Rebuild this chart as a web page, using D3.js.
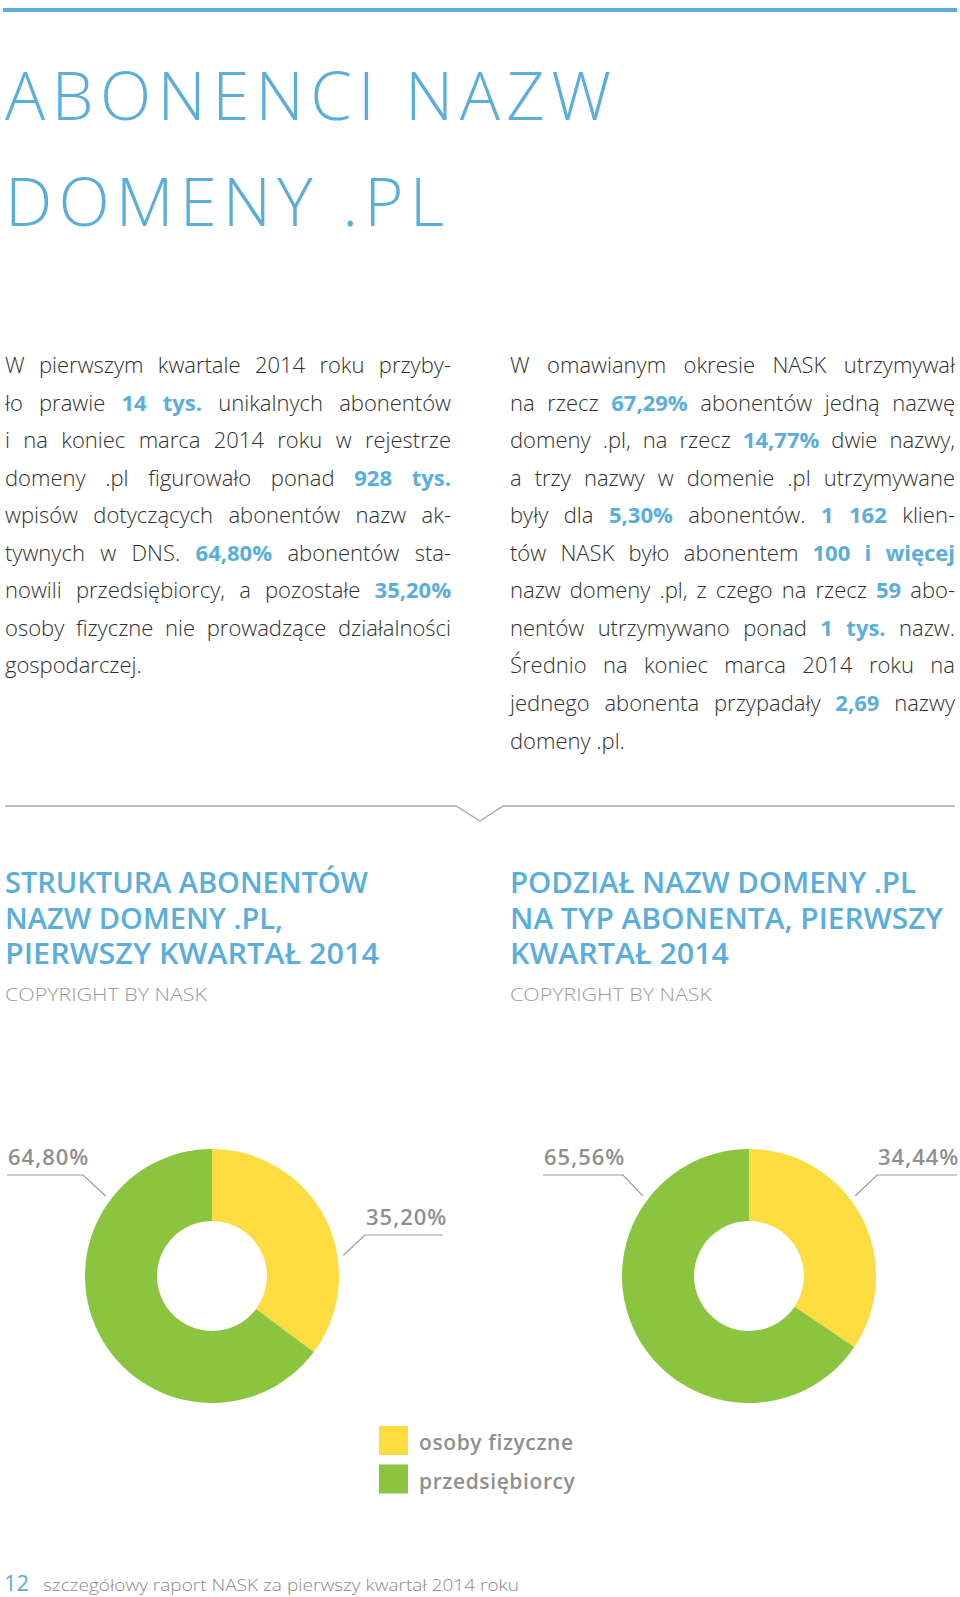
<!DOCTYPE html>
<html><head><meta charset="utf-8">
<script src="https://cdn.jsdelivr.net/npm/d3@7"></script>
<style>html,body{margin:0;padding:0;background:#fff;}svg{display:block;}</style>
</head><body>
<script>
// ---------- data ----------
const categories = ["osoby fizyczne", "przedsiębiorcy"];
const strukturaValues = [35.20, 64.80];   // chart 1
const podzialValues = [34.44, 65.56];     // chart 2
const chart1Title = ["STRUKTURA ABONENTÓW", "NAZW DOMENY .PL,", "PIERWSZY KWARTAŁ 2014"];
const chart2Title = ["PODZIAŁ NAZW DOMENY .PL", "NA TYP ABONENTA, PIERWSZY", "KWARTAŁ 2014"];
const sourceNote = "COPYRIGHT BY NASK";
const pageTitle = ["ABONENCI NAZW", "DOMENY .PL"];
const footerPage = "12";
const footerText = "szczegółowy raport NASK za pierwszy kwartał 2014 roku";
// paragraph lines: **bold**
const leftLines = [
  "W pierwszym kwartale 2014 roku przyby-",
  "ło prawie **14 tys.** unikalnych abonentów",
  "i na koniec marca 2014 roku w rejestrze",
  "domeny .pl figurowało ponad **928 tys.**",
  "wpisów dotyczących abonentów nazw ak-",
  "tywnych w DNS. **64,80%** abonentów sta-",
  "nowili przedsiębiorcy, a pozostałe **35,20%**",
  "osoby fizyczne nie prowadzące działalności",
  "gospodarczej."
];
const rightLines = [
  "W omawianym okresie NASK utrzymywał",
  "na rzecz **67,29%** abonentów jedną nazwę",
  "domeny .pl, na rzecz **14,77%** dwie nazwy,",
  "a trzy nazwy w domenie .pl utrzymywane",
  "były dla **5,30%** abonentów. **1 162** klien-",
  "tów NASK było abonentem **100 i więcej**",
  "nazw domeny .pl, z czego na rzecz **59** abo-",
  "nentów utrzymywano ponad **1 tys.** nazw.",
  "Średnio na koniec marca 2014 roku na",
  "jednego abonenta przypadały **2,69** nazwy",
  "domeny .pl."
];

// ---------- style ----------
const W = 960, H = 1597;
const BLUE = "#5aaedb", YELLOW = "#fddc40", GREEN = "#8bc43f", GRAY = "#8f8f8f", TEXT = "#2f2f2f";
const FONT = "'Open Sans', 'Noto Sans', sans-serif";
const colors = d3.scaleOrdinal().domain(categories).range([YELLOW, GREEN]);
const pl = d3.formatLocale({decimal: ",", thousands: " ", grouping: [3], currency: ["", " zł"]});
const fmtPct = v => pl.format(".2f")(v) + "%";

const svg = d3.select("body").append("svg").attr("width", W).attr("height", H)
  .style("font-family", FONT);

// top bar
svg.append("rect").attr("x", 3).attr("y", 8).attr("width", 954).attr("height", 4).attr("fill", BLUE);

// page title
const titleTargets = [606, 439];
pageTitle.forEach((t, i) => {
  svg.append("text").attr("x", 5).attr("y", [120, 226][i])
    .attr("font-size", 67).attr("font-weight", 300).attr("fill", BLUE)
    .attr("textLength", titleTargets[i]).attr("lengthAdjust", "spacing")
    .text(t);
});

// justified paragraphs
function parse(line) {
  const words = [];
  line.split("**").forEach((seg, k) => {
    seg.split(" ").filter(w => w.length).forEach(w => words.push({t: w, b: k % 2 === 1}));
  });
  return words;
}
function paragraph(lines, x0, x1, y0, lh) {
  lines.forEach((line, i) => {
    const words = parse(line);
    const txt = svg.append("text").attr("y", y0 + i * lh).attr("font-size", 22);
    const spans = words.map(w => txt.append("tspan").text(w.t)
      .attr("font-weight", w.b ? 700 : 300).attr("fill", w.b ? BLUE : TEXT));
    let widths = spans.map(s => s.node().getComputedTextLength());
    let total = d3.sum(widths);
    const last = i === lines.length - 1;
    let gap = (last || words.length < 2) ? 5.7 : (x1 - x0 - total) / (words.length - 1);
    if (gap < 5) { // too tight: condense glyph spacing a little
      const need = total - (x1 - x0 - 5 * (words.length - 1));
      const nChars = d3.sum(words, w => w.t.length);
      txt.attr("letter-spacing", -need / nChars);
      widths = spans.map(s => s.node().getComputedTextLength());
      total = d3.sum(widths);
      gap = (x1 - x0 - total) / (words.length - 1);
    }
    let x = x0;
    spans.forEach((s, k) => { s.attr("x", x); x += widths[k] + gap; });
  });
}
paragraph(leftLines, 5, 451, 373, 37.55);
paragraph(rightLines, 510, 955, 373, 37.55);

// divider with notch
svg.append("path").attr("d", "M5,806H456L480,821L503,806H955")
  .attr("fill", "none").attr("stroke", "#a9a9a9").attr("stroke-width", 1.4);

// chart headings
const h1Targets = [363, 278, 374], h2Targets = [406, 433, 219];
function heading(lines, targets, x) {
  lines.forEach((t, i) => {
    svg.append("text").attr("x", x).attr("y", 893 + i * 35.7)
      .attr("font-size", 29).attr("font-weight", 600).attr("fill", BLUE)
      .attr("textLength", targets[i]).attr("lengthAdjust", "spacingAndGlyphs").text(t);
  });
  svg.append("text").attr("x", x).attr("y", 1001).attr("font-size", 19).attr("font-weight", 300)
    .attr("fill", "#9a9a9a").attr("textLength", 202).attr("lengthAdjust", "spacingAndGlyphs").text(sourceNote);
}
heading(chart1Title, h1Targets, 5);
heading(chart2Title, h2Targets, 510);

// donuts
const R = 127, r = 55;
const pie = d3.pie().sort(null).value(d => d.v);
const arc = d3.arc().innerRadius(r).outerRadius(R);
function donut(values, cx, cy, labelLayout) {
  const data = values.map((v, i) => ({cat: categories[i], v}));
  const g = svg.append("g").attr("transform", `translate(${cx},${cy})`);
  const arcs = pie(data);
  g.selectAll("path.slice").data(arcs).join("path").attr("class", "slice")
    .attr("d", arc).attr("fill", d => colors(d.data.cat));
  arcs.forEach((a, i) => {
    const L = labelLayout[i];
    const ang = L.angle * Math.PI / 180;
    const px = cx + Math.sin(ang) * (R + 6), py = cy - Math.cos(ang) * (R + 6);
    const joinX = L.side === "left" ? L.x1 : L.x0;
    svg.append("path").attr("d", `M${px},${py}L${joinX},${L.ly}` +
        (L.side === "left" ? `L${L.x0},${L.ly}` : `L${L.x1},${L.ly}`))
      .attr("fill", "none").attr("stroke", "#9c9c9c").attr("stroke-width", 1.2);
    svg.append("text").attr("x", L.x0 + 1).attr("y", L.ly - 10)
      .attr("font-size", 22).attr("font-weight", 600).attr("fill", GRAY)
      .attr("letter-spacing", 1).text(fmtPct(a.data.v));
  });
}
donut(strukturaValues, 212, 1276, [
  {angle: 81, side: "right", x0: 365, x1: 443, ly: 1235},
  {angle: 307, side: "left", x0: 7, x1: 83, ly: 1175}
]);
donut(podzialValues, 749, 1276, [
  {angle: 53, side: "right", x0: 877, x1: 957, ly: 1175},
  {angle: 307, side: "left", x0: 543, x1: 623, ly: 1175}
]);

// legend
const lg = svg.append("g");
categories.forEach((c, i) => {
  lg.append("rect").attr("x", 379).attr("y", 1426 + i * 38.5).attr("width", 29).attr("height", 29)
    .attr("fill", colors(c));
  lg.append("text").attr("x", 419).attr("y", 1450 + i * 38.5).attr("font-size", 21)
    .attr("font-weight", 600).attr("fill", GRAY).attr("letter-spacing", 0.6).text(c);
});

// footer
svg.append("text").attr("x", 4).attr("y", 1591).attr("font-size", 22).attr("font-weight", 400)
  .attr("fill", BLUE).text(footerPage);
svg.append("text").attr("x", 43).attr("y", 1591).attr("font-size", 17).attr("font-weight", 300)
  .attr("fill", "#8a8a8a").attr("textLength", 476).attr("lengthAdjust", "spacingAndGlyphs").text(footerText);
</script>
</body></html>
